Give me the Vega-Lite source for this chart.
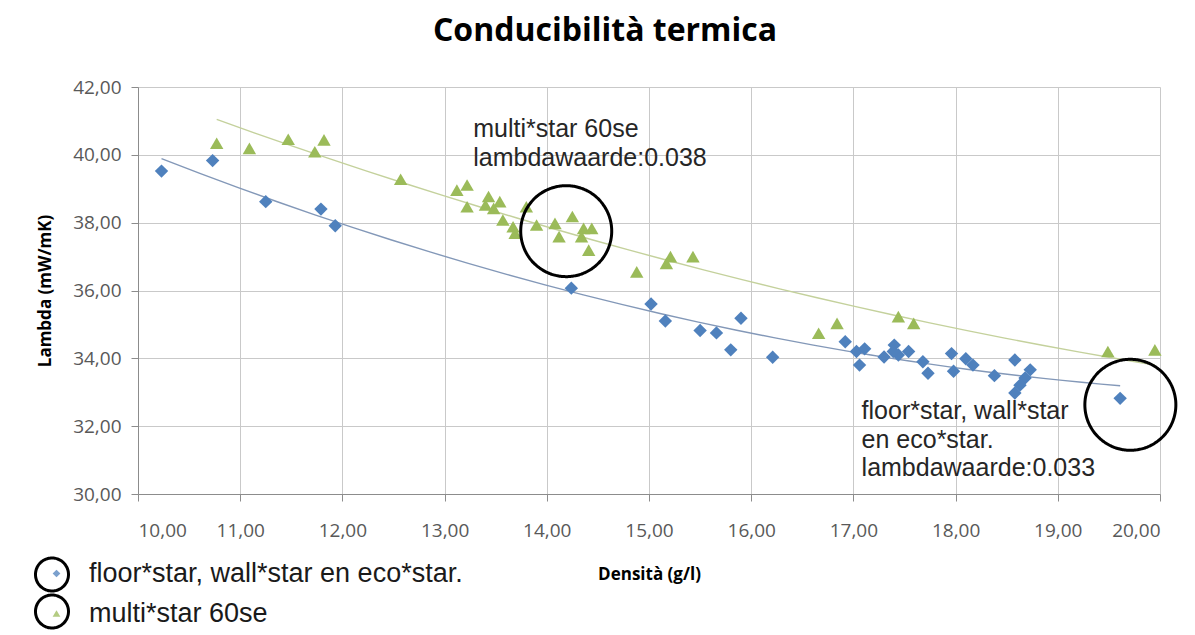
{
  "$schema": "https://vega.github.io/schema/vega-lite/v6.json",
  "width": 1022,
  "height": 407,
  "autosize": {"type": "none"},
  "padding": {"left": 138, "top": 87, "right": 35, "bottom": 141},
  "background": "white",
  "title": {
    "text": "Conducibilità termica",
    "font": "Open Sans",
    "fontSize": 32,
    "fontWeight": "bold",
    "color": "#000000",
    "anchor": "middle",
    "dx": -44,
    "offset": 30
  },
  "config": {
    "view": {"stroke": null},
    "axis": {
      "grid": true,
      "gridColor": "#c9c9c9",
      "gridWidth": 1,
      "domainColor": "#8c8c8c",
      "tickColor": "#8c8c8c",
      "tickSize": 7,
      "labelFont": "Open Sans",
      "labelFontSize": 19,
      "labelColor": "#595959",
      "titleFont": "Open Sans",
      "titleFontSize": 17,
      "titleFontWeight": "bold",
      "titleColor": "#000000"
    }
  },
  "datasets": {
    "punti": [
      {"serie": "floor*star, wall*star en eco*star.", "densita": 10.23, "lambda": 39.52},
      {"serie": "floor*star, wall*star en eco*star.", "densita": 10.73, "lambda": 39.83},
      {"serie": "floor*star, wall*star en eco*star.", "densita": 11.25, "lambda": 38.62},
      {"serie": "floor*star, wall*star en eco*star.", "densita": 11.79, "lambda": 38.40},
      {"serie": "floor*star, wall*star en eco*star.", "densita": 11.93, "lambda": 37.91},
      {"serie": "floor*star, wall*star en eco*star.", "densita": 14.24, "lambda": 36.07},
      {"serie": "floor*star, wall*star en eco*star.", "densita": 15.02, "lambda": 35.60},
      {"serie": "floor*star, wall*star en eco*star.", "densita": 15.16, "lambda": 35.10},
      {"serie": "floor*star, wall*star en eco*star.", "densita": 15.50, "lambda": 34.82},
      {"serie": "floor*star, wall*star en eco*star.", "densita": 15.66, "lambda": 34.75},
      {"serie": "floor*star, wall*star en eco*star.", "densita": 15.80, "lambda": 34.25},
      {"serie": "floor*star, wall*star en eco*star.", "densita": 15.90, "lambda": 35.18},
      {"serie": "floor*star, wall*star en eco*star.", "densita": 16.21, "lambda": 34.03},
      {"serie": "floor*star, wall*star en eco*star.", "densita": 16.92, "lambda": 34.49},
      {"serie": "floor*star, wall*star en eco*star.", "densita": 17.03, "lambda": 34.20},
      {"serie": "floor*star, wall*star en eco*star.", "densita": 17.11, "lambda": 34.28},
      {"serie": "floor*star, wall*star en eco*star.", "densita": 17.06, "lambda": 33.80},
      {"serie": "floor*star, wall*star en eco*star.", "densita": 17.30, "lambda": 34.04},
      {"serie": "floor*star, wall*star en eco*star.", "densita": 17.40, "lambda": 34.39},
      {"serie": "floor*star, wall*star en eco*star.", "densita": 17.44, "lambda": 34.10},
      {"serie": "floor*star, wall*star en eco*star.", "densita": 17.39, "lambda": 34.20},
      {"serie": "floor*star, wall*star en eco*star.", "densita": 17.54, "lambda": 34.20},
      {"serie": "floor*star, wall*star en eco*star.", "densita": 17.68, "lambda": 33.90},
      {"serie": "floor*star, wall*star en eco*star.", "densita": 17.73, "lambda": 33.56},
      {"serie": "floor*star, wall*star en eco*star.", "densita": 17.96, "lambda": 34.14},
      {"serie": "floor*star, wall*star en eco*star.", "densita": 17.98, "lambda": 33.62},
      {"serie": "floor*star, wall*star en eco*star.", "densita": 18.10, "lambda": 33.99},
      {"serie": "floor*star, wall*star en eco*star.", "densita": 18.17, "lambda": 33.80},
      {"serie": "floor*star, wall*star en eco*star.", "densita": 18.38, "lambda": 33.49},
      {"serie": "floor*star, wall*star en eco*star.", "densita": 18.58, "lambda": 33.95},
      {"serie": "floor*star, wall*star en eco*star.", "densita": 18.73, "lambda": 33.66},
      {"serie": "floor*star, wall*star en eco*star.", "densita": 18.68, "lambda": 33.42},
      {"serie": "floor*star, wall*star en eco*star.", "densita": 18.63, "lambda": 33.21},
      {"serie": "floor*star, wall*star en eco*star.", "densita": 18.58, "lambda": 32.98},
      {"serie": "floor*star, wall*star en eco*star.", "densita": 19.61, "lambda": 32.82},
      {"serie": "multi*star 60se", "densita": 10.77, "lambda": 40.34},
      {"serie": "multi*star 60se", "densita": 11.09, "lambda": 40.19},
      {"serie": "multi*star 60se", "densita": 11.47, "lambda": 40.46},
      {"serie": "multi*star 60se", "densita": 11.73, "lambda": 40.09},
      {"serie": "multi*star 60se", "densita": 11.82, "lambda": 40.44},
      {"serie": "multi*star 60se", "densita": 12.57, "lambda": 39.28},
      {"serie": "multi*star 60se", "densita": 13.12, "lambda": 38.96},
      {"serie": "multi*star 60se", "densita": 13.22, "lambda": 39.11},
      {"serie": "multi*star 60se", "densita": 13.22, "lambda": 38.47},
      {"serie": "multi*star 60se", "densita": 13.43, "lambda": 38.77},
      {"serie": "multi*star 60se", "densita": 13.54, "lambda": 38.62},
      {"serie": "multi*star 60se", "densita": 13.40, "lambda": 38.52},
      {"serie": "multi*star 60se", "densita": 13.48, "lambda": 38.42},
      {"serie": "multi*star 60se", "densita": 13.57, "lambda": 38.08},
      {"serie": "multi*star 60se", "densita": 13.67, "lambda": 37.88},
      {"serie": "multi*star 60se", "densita": 13.69, "lambda": 37.69},
      {"serie": "multi*star 60se", "densita": 13.80, "lambda": 38.47},
      {"serie": "multi*star 60se", "densita": 13.90, "lambda": 37.93},
      {"serie": "multi*star 60se", "densita": 14.08, "lambda": 37.98},
      {"serie": "multi*star 60se", "densita": 14.12, "lambda": 37.59},
      {"serie": "multi*star 60se", "densita": 14.25, "lambda": 38.18},
      {"serie": "multi*star 60se", "densita": 14.36, "lambda": 37.83},
      {"serie": "multi*star 60se", "densita": 14.44, "lambda": 37.83},
      {"serie": "multi*star 60se", "densita": 14.34, "lambda": 37.59},
      {"serie": "multi*star 60se", "densita": 14.41, "lambda": 37.19},
      {"serie": "multi*star 60se", "densita": 14.88, "lambda": 36.55},
      {"serie": "multi*star 60se", "densita": 15.17, "lambda": 36.80},
      {"serie": "multi*star 60se", "densita": 15.21, "lambda": 37.00},
      {"serie": "multi*star 60se", "densita": 15.43, "lambda": 37.00},
      {"serie": "multi*star 60se", "densita": 16.66, "lambda": 34.74},
      {"serie": "multi*star 60se", "densita": 16.84, "lambda": 35.03},
      {"serie": "multi*star 60se", "densita": 17.44, "lambda": 35.23},
      {"serie": "multi*star 60se", "densita": 17.59, "lambda": 35.03},
      {"serie": "multi*star 60se", "densita": 19.49, "lambda": 34.20},
      {"serie": "multi*star 60se", "densita": 19.95, "lambda": 34.25}
    ],
    "cerchi": [
      {"cerchio": "A", "densita": 14.19, "lambda": 37.75},
      {"cerchio": "B", "densita": 19.71, "lambda": 32.63}
    ],
    "note": [
      {"testo": "multi*star 60se", "densita": 13.28, "lambda": 40.52},
      {"testo": "lambdawaarde:0.038", "densita": 13.28, "lambda": 39.68},
      {"testo": "floor*star, wall*star", "densita": 17.08, "lambda": 32.21},
      {"testo": "en eco*star.", "densita": 17.08, "lambda": 31.36},
      {"testo": "lambdawaarde:0.033", "densita": 17.08, "lambda": 30.53}
    ]
  },
  "encoding": {
    "x": {
      "field": "densita",
      "type": "quantitative",
      "title": "Densità (g/l)",
      "scale": {"domain": [10, 20], "nice": false, "zero": false},
      "axis": {
        "values": [10, 11, 12, 13, 14, 15, 16, 17, 18, 19, 20],
        "labelExpr": "replace(format(datum.value, '.2f'), '.', ',')",
        "labelPadding": 20,
        "titlePadding": 26
      }
    },
    "y": {
      "field": "lambda",
      "type": "quantitative",
      "title": "Lambda (mW/mK)",
      "scale": {"domain": [30, 42], "nice": false, "zero": false},
      "axis": {
        "values": [30, 32, 34, 36, 38, 40, 42],
        "labelExpr": "replace(format(datum.value, '.2f'), '.', ',')",
        "labelPadding": 10,
        "titlePadding": 18
      }
    }
  },
  "layer": [
    {
      "data": {"name": "punti"},
      "transform": [
        {"filter": "datum.serie === 'floor*star, wall*star en eco*star.'"},
        {"regression": "lambda", "on": "densita", "method": "poly", "order": 2}
      ],
      "mark": {"type": "line", "color": "#8398b8", "strokeWidth": 1.4}
    },
    {
      "data": {"name": "punti"},
      "transform": [
        {"filter": "datum.serie === 'multi*star 60se'"},
        {"regression": "lambda", "on": "densita", "method": "poly", "order": 2}
      ],
      "mark": {"type": "line", "color": "#c4d19c", "strokeWidth": 1.4}
    },
    {
      "data": {"name": "punti"},
      "mark": {"type": "point", "filled": true, "opacity": 1, "size": 180},
      "encoding": {
        "color": {
          "field": "serie",
          "type": "nominal",
          "scale": {"domain": ["floor*star, wall*star en eco*star.", "multi*star 60se"], "range": ["#4F81BD", "#9BBB59"]},
          "legend": {
            "orient": "none",
            "legendX": -95,
            "legendY": 473,
            "direction": "vertical",
            "title": null,
            "padding": 0,
            "rowPadding": 12,
            "symbolSize": 60,
            "symbolOpacity": 0.75,
            "labelFont": "Liberation Sans",
            "labelFontSize": 27,
            "labelColor": "#1a1a1a",
            "labelOffset": 19,
            "labelLimit": 600
          }
        },
        "shape": {
          "field": "serie",
          "type": "nominal",
          "scale": {"domain": ["floor*star, wall*star en eco*star.", "multi*star 60se"], "range": ["diamond", "triangle-up"]},
          "legend": {
            "orient": "none",
            "legendX": -95,
            "legendY": 473,
            "direction": "vertical",
            "title": null,
            "padding": 0,
            "rowPadding": 12,
            "symbolSize": 60,
            "symbolOpacity": 0.75,
            "labelFont": "Liberation Sans",
            "labelFontSize": 27,
            "labelColor": "#1a1a1a",
            "labelOffset": 19,
            "labelLimit": 600
          }
        }
      }
    },
    {
      "data": {"name": "cerchi"},
      "mark": {"type": "point", "shape": "circle", "filled": false, "color": "#000000", "stroke": "#000000", "strokeWidth": 3, "size": 8281, "opacity": 1},
      "encoding": {
        "strokeDash": {
          "field": "cerchio",
          "type": "nominal",
          "scale": {"domain": ["A", "B"], "range": [[1, 0], [1, 0]]},
          "legend": {
            "orient": "none",
            "legendX": -104,
            "legendY": 469,
            "direction": "vertical",
            "title": null,
            "padding": 0,
            "rowPadding": 0,
            "clipHeight": 37,
            "symbolType": "circle",
            "symbolSize": 1089,
            "symbolStrokeWidth": 3,
            "symbolStrokeColor": "#000000",
            "symbolFillColor": "transparent",
            "symbolDash": [1, 0],
            "labelExpr": "''",
            "labelFontSize": 1,
            "labelOffset": 0
          }
        }
      }
    },
    {
      "data": {"name": "note"},
      "mark": {"type": "text", "align": "left", "baseline": "alphabetic", "font": "Liberation Sans", "fontSize": 25, "color": "#262626"},
      "encoding": {
        "text": {"field": "testo", "type": "nominal"}
      }
    }
  ]
}
